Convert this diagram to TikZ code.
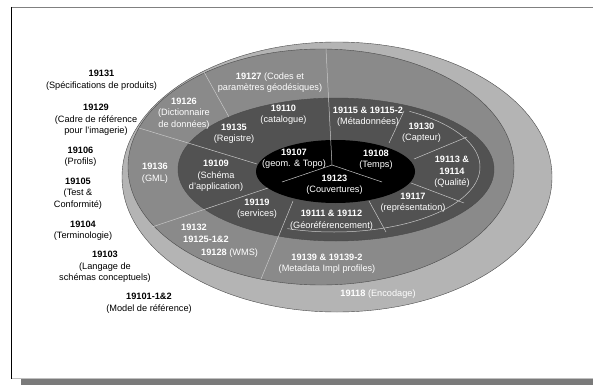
\documentclass[tikz,border=0pt]{standalone}
\usepackage{fontspec}
\setmainfont{Liberation Sans}
\definecolor{outerring}{HTML}{B4B4B4}
\definecolor{midring}{HTML}{8A8A8A}
\definecolor{innerring}{HTML}{525252}
\definecolor{edge}{HTML}{4A4A4A}
\definecolor{divline}{HTML}{C8C8C8}
\definecolor{framegray}{HTML}{808080}
\definecolor{shadowgray}{HTML}{7A7A7A}

\begin{document}
\begin{tikzpicture}[x=1pt, y=-1pt,
  txt/.style={align=center, inner sep=0pt, font=\fontsize{9.2}{11.5}\selectfont},
  inlab/.style={txt, text=white},
  sidelab/.style={txt, text=black},
  sep/.style={draw=divline, line width=0.5pt}]
\useasboundingbox (0,0) rectangle (593,385);

% frame and shadow
\fill[shadowgray] (21,379) rectangle (593,385);
\draw[black!25, line width=0.8pt] (11,378.4) -- (593,378.4);
\draw[framegray, line width=1.5pt] (11,7.5) -- (593,7.5);
\draw[black, line width=1pt] (11.5,7) -- (11.5,378.5);

% rings
\filldraw[fill=outerring, draw=edge, line width=0.4pt] (337,177) ellipse [x radius=215, y radius=135];
\filldraw[fill=midring, draw=edge, line width=0.4pt] (321,167) ellipse [x radius=193, y radius=118];
\filldraw[fill=innerring, draw=edge, line width=0.4pt] (336,169.5) ellipse [x radius=158, y radius=71.5];
\begin{scope}
  \clip (334,167) -- (471,66) -- (600,66) -- (600,318) -- (220,318) -- cycle;
  \draw[sep] (334,167) ellipse [x radius=146, y radius=65];
\end{scope}
\fill[black] (335.5,171.5) ellipse [x radius=79.5, y radius=31.5];

% sector lines
\coordinate (hub) at (332,165);
\draw[sep] (326,49) -- (hub);
\draw[sep] (hub) -- (282,182);
\draw[sep] (hub) -- (382,182);
\draw[sep] (139,128) -- (257,164);
\draw[sep] (152,227) -- (268,188);
\draw[sep] (261,279) -- (293,201);
\draw[sep] (204,72) -- (229,117);
\draw[sep] (404,111) -- (389,143);
\draw[sep] (414,159) -- (467,137);
\draw[sep] (411,183) -- (464,203);
\draw[sep] (369,201) -- (386,232);

% labels in the rings
\node[inlab] (c127) at (270,82.5) {\textbf{19127} (Codes et\\paramètres géodésiques)};
\node[inlab] (c126) at (184,113.5) {\textbf{19126}\\(Dictionnaire\\de données)};
\node[inlab] (c110) at (283.5,114.5) {\textbf{19110}\\(catalogue)};
\node[inlab] (c135) at (234,133.5) {\textbf{19135}\\(Registre)};
\node[inlab] (c115) at (368,116.5) {\textbf{19115 \& 19115-2}\\(Métadonnées)};
\node[inlab] (c130) at (421.5,132.5) {\textbf{19130}\\(Capteur)};
\node[inlab] (c107) at (294,158.5) {\textbf{19107}\\(geom. \& Topo)};
\node[inlab] (c108) at (376,159.5) {\textbf{19108}\\(Temps)};
\node[inlab] (c123) at (334.5,184.5) {\textbf{19123}\\(Couvertures)};
\node[inlab] (c136) at (155,173) {\textbf{19136}\\(GML)};
\node[inlab] (c109) at (216,176) {\textbf{19109}\\(Schéma\\d'application)};
\node[inlab] (c113) at (452,172) {\textbf{19113 \&}\\\textbf{19114}\\(Qualité)};
\node[inlab] (c117) at (413,202.5) {\textbf{19117}\\(représentation)};
\node[inlab] (c119) at (257,208.5) {\textbf{19119}\\(services)};
\node[inlab] (c111) at (331.5,220) {\textbf{19111 \& 19112}\\(Géoréférencement)};
\node[inlab, anchor=west] (c132) at (181,227) {\textbf{19132}};
\node[inlab, anchor=west] (c125) at (183,239.5) {\textbf{19125-1\&2}};
\node[inlab, anchor=west] (c128) at (201,253) {\textbf{19128} (WMS)};
\node[inlab] (c139) at (327,263.5) {\textbf{19139 \& 19139-2}\\(Metadata Impl profiles)};
\node[inlab] (c118) at (378,294) {\textbf{19118} (Encodage)};

% labels outside
\node[sidelab] (s131) at (101.5,80) {\textbf{19131}\\(Spécifications de produits)};
\node[sidelab] (s129) at (96,120) {\textbf{19129}\\(Cadre de référence\\pour l'imagerie)};
\node[sidelab] (s106) at (80.5,156.5) {\textbf{19106}\\(Profils)};
\node[sidelab] (s105) at (78,193.5) {\textbf{19105}\\(Test \&\\Conformité)};
\node[sidelab] (s104) at (83,230.5) {\textbf{19104}\\(Terminologie)};
\node[sidelab] (s103) at (105,267) {\textbf{19103}\\(Langage de\\schémas conceptuels)};
\node[sidelab] (s101) at (149,303) {\textbf{19101-1\&2}\\(Model de référence)};
\end{tikzpicture}
\end{document}
